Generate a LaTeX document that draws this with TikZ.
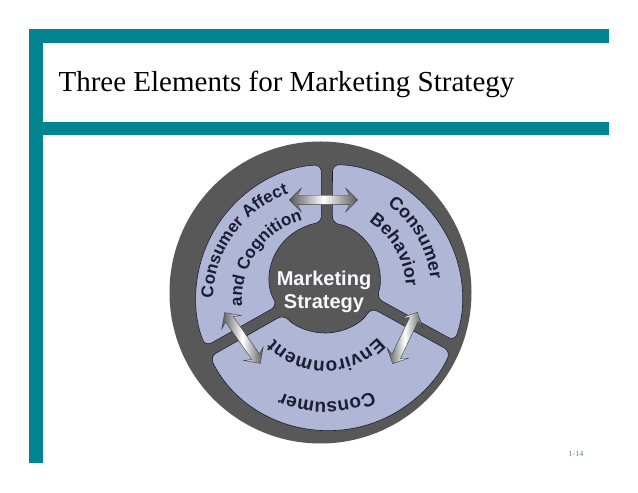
\documentclass[tikz,border=0pt]{standalone}
\usepackage{fontspec}
\setmainfont{Liberation Serif}
\newfontfamily\wheelfont{Liberation Sans}
\usetikzlibrary{shapes.arrows,decorations.text}
\definecolor{slideteal}{RGB}{0,132,143}
\definecolor{ringgray}{RGB}{88,88,88}
\definecolor{segblue}{RGB}{176,182,214}
\definecolor{segink}{RGB}{28,28,52}
\definecolor{pagenum}{RGB}{90,130,135}
\begin{document}
\begin{tikzpicture}[x=1pt,y=1pt,
  bar/.style={fill=slideteal},
  segment/.style={fill=segblue,draw=segink,line width=0.6pt,rounded corners=7pt},
  link/.style={shape=double arrow,draw=ringgray!70!black,line width=0.4pt,
    shading=axis,left color=ringgray,right color=ringgray,middle color=white,
    inner sep=4.5pt,minimum height=#1,double arrow head extend=7pt,
    double arrow head indent=3.5pt},
  curved/.style 2 args={decorate,decoration={text along path,text align=center,
    text={|\wheelfont\fontsize{#2}{#2}\selectfont\bfseries\color{segink}|#1}}}
]
  \useasboundingbox[fill=white] (0,0) rectangle (638,493);
  \fill[bar] (29,450) rectangle (609,464);
  \fill[bar] (29,358) rectangle (609,371);
  \fill[bar] (29,30) rectangle (43,464);
  \node[anchor=base west,font=\fontsize{29}{34}\selectfont] (title) at (55,401)
    {Three Elements for Marketing Strategy};
  \node[font=\fontsize{8}{10}\selectfont,text=pagenum] (page) at (576,39) {1-14};

  \coordinate (rimc) at (320.5,200.5);
  \coordinate (segc) at (329,195.5);
  \coordinate (hubc) at (325,215);
  \coordinate (leftc) at (325,193);
  \coordinate (txtc) at (325,203);
  \fill[ringgray] (rimc) circle[radius=151];
  \draw[segment] ([shift={(segc)}]93.3:133) arc[start angle=93.3,end angle=201.6,radius=133]
    -- ([shift={(hubc)}]210.3:55) arc[start angle=210.3,end angle=93.7,radius=55] -- cycle;
  \draw[segment] ([shift={(segc)}]206.4:133) arc[start angle=206.4,end angle=336.1,radius=133]
    -- ([shift={(hubc)}]327.3:55) arc[start angle=327.3,end angle=221.7,radius=55] -- cycle;
  \draw[segment] ([shift={(segc)}]-19.1:133) arc[start angle=-19.1,end angle=88.5,radius=133]
    -- ([shift={(hubc)}]82.3:55) arc[start angle=82.3,end angle=-21.3,radius=55] -- cycle;

  \node[align=center,text=white!92!segblue,
    font=\wheelfont\fontsize{20}{23}\selectfont\bfseries] (hub) at (324,201)
    {Marketing\\Strategy};

  \path[curved={Consumer Affect}{17}] ([shift={(leftc)}]234:112) arc[start angle=234,end angle=54,radius=112];
  \path[curved={and Cognition}{17}] ([shift={(leftc)}]235:83) arc[start angle=235,end angle=55,radius=83];
  \path[curved={Consumer}{18}] ([shift={(txtc)}]120:106) arc[start angle=120,end angle=-60,radius=106];
  \path[curved={Behavior}{18}] ([shift={(txtc)}]120:81) arc[start angle=120,end angle=-60,radius=81];
  \path[curved={Consumer}{19}] ([shift={(txtc)}]361:112) arc[start angle=361,end angle=181,radius=112];
  \path[curved={Environment}{19}] ([shift={(txtc)}]361:71) arc[start angle=361,end angle=181,radius=71];

  \node[link=68] (topLink) at (323.5,293) {};
  \node[link=62,rotate=-55] (leftLink) at (242.5,155) {};
  \node[link=57,rotate=64.4] (rightLink) at (405,155) {};
\end{tikzpicture}
\end{document}
